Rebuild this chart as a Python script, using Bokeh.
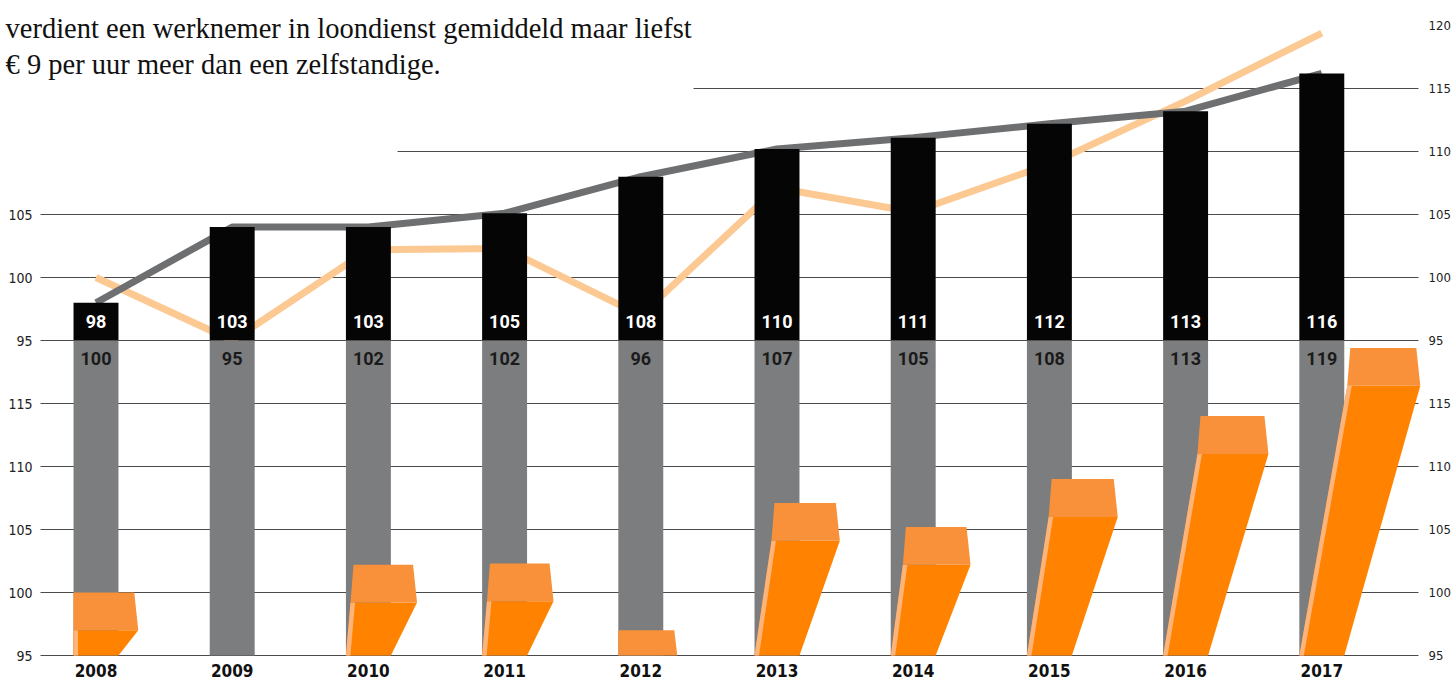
from bokeh.plotting import figure
from bokeh.models import Range1d, LinearAxis, FixedTicker, Label, CustomJSTickFormatter
from bokeh.core.properties import value
from bokeh.embed import file_html
from bokeh.resources import INLINE

# ---------------- data ----------------
years = [2008, 2009, 2010, 2011, 2012, 2013, 2014, 2015, 2016, 2017]
year_labels = ["2008", "2009", "2010", "2011", "2012", "2013", "2014", "2015", "2016", "2017"]

# top panel: black bars (werknemer) and their printed labels
black_values = [98, 104, 104, 105.1, 108, 110.2, 111.1, 112.2, 113.2, 116.2]
black_labels = ["98", "103", "103", "105", "108", "110", "111", "112", "113", "116"]

# bottom panel: orange 3D bars (zelfstandige), also drawn as the light line on top
orange_values = [100, 95, 102.2, 102.3, 97, 107.1, 105.2, 109, 114, 119.4]
orange_labels = ["100", "95", "102", "102", "96", "107", "105", "108", "113", "119"]

top_grid_full = [95, 100, 105]
top_grid_part = [110, 115]
bottom_grid = [95, 100, 105, 110, 115]
left_ticks = [70, 75, 80, 85, 90, 95, 100, 105]            # top-range positions
right_ticks = [70, 75, 80, 85, 90, 95, 100, 105, 110, 115, 120]

text_lines = ["verdient een werknemer in loondienst gemiddeld maar liefst",
              "€ 9 per uur meer dan een zelfstandige."]

# ---------------- layout / style ----------------
PX_X = 1 / 136.2     # x-units per pixel
PX_Y = 1 / 12.6      # y-units per pixel
BASE = 95
BAR_W = 0.33
CAP = 3.0
PANEL_SHIFT = 25     # bottom panel value = top-range value + 25

TICKFONT = "DejaVu Sans Condensed"
LABFONT = "Roboto"
SERIF = "Liberation Serif"

W, H = 1453, 681
X0, X1 = 2007.29883, 2017.96696
Y0, Y1 = 67.937, 121.984
GRID_L, GRID_R = 2007.5925, 2017.7100
PART_L = [2010.2137, 2012.3869]
AX_L, AX_R = 2007.578, 2017.7247

p = figure(width=W, height=H,
           x_range=Range1d(X0, X1), y_range=Range1d(Y0, Y1),
           output_backend="svg", toolbar_location=None,
           x_axis_location=None, y_axis_location="left",
           min_border=0, min_border_left=0, min_border_right=0,
           min_border_top=0, min_border_bottom=0,
           outline_line_color=None, background_fill_color="white",
           border_fill_color="white")
p.extra_y_ranges = {"bottom": Range1d(Y0 + PANEL_SHIFT, Y1 + PANEL_SHIFT)}
p.xgrid.visible = False
p.ygrid.visible = False

fmt = CustomJSTickFormatter(code="return String(tick < 92.5 ? tick + 25 : tick);")

def style_axis(ax, standoff, size):
    ax.axis_line_color = None
    ax.major_tick_line_color = None
    ax.minor_tick_line_color = None
    ax.major_tick_in = 0
    ax.major_tick_out = 0
    ax.major_label_standoff = standoff
    ax.major_label_text_font = TICKFONT
    ax.major_label_text_font_size = size
    ax.major_label_text_color = "#222222"
    ax.formatter = fmt

yl = p.yaxis[0]
yl.ticker = FixedTicker(ticks=left_ticks)
yl.fixed_location = AX_L
style_axis(yl, 6, "14px")

yr = LinearAxis(ticker=FixedTicker(ticks=right_ticks), fixed_location=AX_R)
style_axis(yr, 8, "13px")
p.add_layout(yr, "right")

# grid lines
GRID_KW = dict(line_color="#4a4a4a", line_width=1.2)
p.segment(x0=[GRID_L] * 3, x1=[GRID_R] * 3, y0=top_grid_full, y1=top_grid_full, **GRID_KW)
p.segment(x0=PART_L, x1=[GRID_R] * 2, y0=top_grid_part, y1=top_grid_part, **GRID_KW)
p.segment(x0=[GRID_L] * 5, x1=[GRID_R] * 5, y0=bottom_grid, y1=bottom_grid,
          y_range_name="bottom", **GRID_KW)

# lines
p.line(years, orange_values, line_color="#fdc993", line_width=7)
p.line(years, black_values, line_color="#6e6f71", line_width=7)

# black bars
p.vbar(x=years, width=BAR_W, bottom=BASE, top=black_values, fill_color="#050505", line_color=None)

# gray column bars in bottom panel (from 95 up to the top panel baseline)
p.vbar(x=years, width=BAR_W, bottom=BASE, top=BASE + PANEL_SHIFT, y_range_name="bottom",
       fill_color="#7c7d7f", line_color=None)

# orange 3D shapes
front_xs, front_ys, cap_xs, cap_ys, strip_xs, strip_ys = [], [], [], [], [], []
for c, v in zip(years, orange_values):
    if v <= BASE:
        continue
    bl = c - BAR_W / 2
    br = c + BAR_W / 2
    hf = v - CAP - BASE
    if hf > 0:
        hpx = hf / PX_Y
        r = (14 + 0.23 * hpx) * PX_X
        l = max(0.0, 0.2 * (hpx - 30)) * PX_X
        ty = v - CAP
        front_xs.append([bl, br, br + r, bl + l])
        front_ys.append([BASE, BASE, ty, ty])
        sw = 4.5 * PX_X
        strip_xs.append([bl, bl + sw, bl + l + sw, bl + l])
        strip_ys.append([BASE, BASE, ty, ty])
        sh = min(3 * PX_X, l)
        cap_xs.append([bl + l, br + r, br + r - 4 * PX_X, bl + l + sh])
        cap_ys.append([ty, ty, v, v])
    else:
        r = 14 * PX_X
        cap_xs.append([bl, br + r, br + r - 3 * PX_X, bl])
        cap_ys.append([BASE, BASE, v, v])

p.patches(front_xs, front_ys, y_range_name="bottom", fill_color="#ff8200", line_color=None)
p.patches(strip_xs, strip_ys, y_range_name="bottom", fill_color="#fdb47b", line_color=None)
p.patches(cap_xs, cap_ys, y_range_name="bottom", fill_color="#f8913a", line_color=None)

# value labels
p.text(x=years, y=[BASE] * len(years), text=black_labels, text_align="center",
       text_baseline="alphabetic", y_offset=-19, text_color="white",
       text_font=value(LABFONT), text_font_style="bold", text_font_size="18px")
p.text(x=years, y=[BASE] * len(years), text=orange_labels, text_align="center",
       text_baseline="alphabetic", y_offset=18, text_color="#1a1a1a",
       text_font=value(LABFONT), text_font_style="bold", text_font_size="18px")

# year labels
p.text(x=years, y=[BASE] * len(years), y_range_name="bottom", text=year_labels,
       text_align="center", text_baseline="alphabetic", y_offset=15, text_color="#111111",
       text_font=value(TICKFONT), text_font_style="bold", text_font_size="17px")

# intro text
for i, t in enumerate(text_lines):
    p.add_layout(Label(x=5, y=653 - 36 * i, x_units="screen", y_units="screen", text=t,
                       text_font=SERIF, text_font_size="28.5px", text_color="#111111",
                       text_baseline="alphabetic"))

open("out.html", "w").write(file_html(p, INLINE))
